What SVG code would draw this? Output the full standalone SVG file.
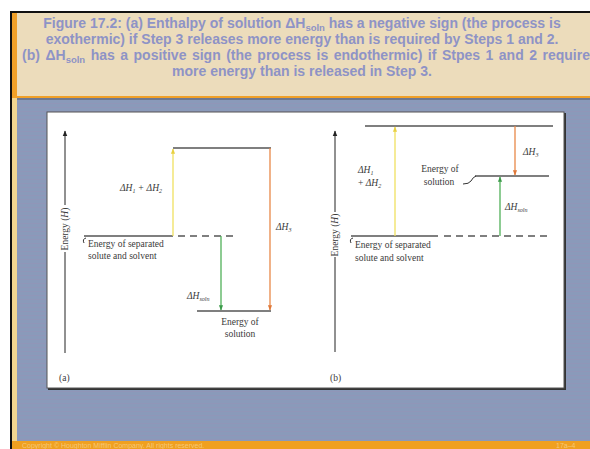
<svg xmlns="http://www.w3.org/2000/svg" width="590" height="449" viewBox="0 0 590 449">
<defs>
<style>
.title{font-family:"Liberation Sans",Arial,sans-serif;font-weight:bold;font-size:14px;fill:#8e93c6;text-anchor:middle}
.lbl{font-family:"Liberation Serif","Times New Roman",serif;font-size:9.5px;fill:#3a3a3a}
.it{font-style:italic}
.lvl{stroke:#555;stroke-width:1.3;fill:none}
.dash{stroke:#555;stroke-width:1.3;stroke-dasharray:7 5;fill:none}
.axis{stroke:#222;stroke-width:1;fill:none}
.foot{font-family:"Liberation Sans",Arial,sans-serif;font-size:7px;fill:#f6c878}
</style>
<marker id="ahK" viewBox="0 0 10 10" refX="9" refY="5" markerWidth="6" markerHeight="6" orient="auto"><path d="M0,1 L10,5 L0,9 z" fill="#222"/></marker>
<marker id="ahY" viewBox="0 0 10 10" refX="9" refY="5" markerWidth="4" markerHeight="5" orient="auto"><path d="M0,1 L10,5 L0,9 z" fill="#e8d040"/></marker>
<marker id="ahO" viewBox="0 0 10 10" refX="9" refY="5" markerWidth="4" markerHeight="5" orient="auto"><path d="M0,1 L10,5 L0,9 z" fill="#e07838"/></marker>
<marker id="ahG" viewBox="0 0 10 10" refX="9" refY="5" markerWidth="4" markerHeight="5" orient="auto"><path d="M0,1 L10,5 L0,9 z" fill="#3a9a48"/></marker>
<pattern id="stripes" width="4" height="4" patternUnits="userSpaceOnUse"><rect width="4" height="4" fill="#8a9aba"/><rect y="3" width="4" height="1" fill="#9096b8"/></pattern>
</defs>
<rect width="590" height="449" fill="#fff"/>
<!-- frame -->
<rect x="10" y="11" width="580" height="438" fill="#111"/>
<rect x="12" y="13" width="578" height="85" fill="#ecdcbb"/>
<rect x="12" y="13" width="5" height="85" fill="#f0a028"/>
<rect x="12" y="96" width="578" height="2" fill="#f0a028"/>
<rect x="12" y="98" width="578" height="343" fill="url(#stripes)"/>
<rect x="12" y="98" width="5" height="343" fill="#f2d690"/>
<rect x="17" y="98" width="573" height="2" fill="#6e7890"/>
<rect x="12" y="441" width="578" height="8" fill="#f0a020"/>
<text class="foot" x="22" y="447.5">Copyright © Houghton Mifflin Company. All rights reserved.</text>
<text class="foot" x="556" y="447.5">17a–4</text>
<!-- title -->
<g id="title">
<text class="title" x="302" y="28">Figure 17.2:  (a) Enthalpy of solution ΔH<tspan font-size="9.5" dy="2.5">soln</tspan><tspan dy="-2.5"> has a negative sign (the process is</tspan></text>
<text class="title" x="302" y="44">exothermic) if Step 3 releases more energy than is required by Steps 1 and 2.</text>
<text class="title" x="306" y="60" word-spacing="1.6">(b) ΔH<tspan font-size="9.5" dy="2.5">soln</tspan><tspan dy="-2.5"> has a positive sign (the process is endothermic) if Stpes 1 and 2 require</tspan></text>
<text class="title" x="302" y="76">more energy than is released in Step 3.</text>
</g>
<!-- figure box -->
<rect x="48" y="113" width="518" height="277" fill="#333"/>
<rect x="47" y="112" width="517" height="276" fill="#fff" stroke="#555" stroke-width="1"/>
<!-- panel a -->
<g id="panel-a">
<g id="a-axis">
<line class="axis" x1="65" y1="353" x2="65" y2="252"/>
<line class="axis" x1="65" y1="205" x2="65" y2="131" marker-end="url(#ahK)"/>
<text class="lbl" transform="translate(68,229) rotate(-90)" text-anchor="middle">Energy (<tspan class="it">H</tspan>)</text>
</g>
<g id="a-top"><line class="lvl" x1="173" y1="148" x2="271" y2="148"/></g>
<g id="a-sep">
<line class="lvl" x1="84" y1="236" x2="173" y2="236"/>
<line class="dash" x1="178" y1="236" x2="238" y2="236"/>
<path d="M86,238 q-4,1 -2,5" fill="none" stroke="#333" stroke-width="1"/>
<text class="lbl" x="88" y="247">Energy of separated</text>
<text class="lbl" x="88" y="259">solute and solvent</text>
</g>
<g id="a-sol">
<line class="lvl" x1="197" y1="311" x2="271" y2="311"/>
<text class="lbl" x="240" y="325" text-anchor="middle">Energy of</text>
<text class="lbl" x="240" y="337" text-anchor="middle">solution</text>
</g>
<g id="a-connectors">
<line x1="173" y1="236" x2="173" y2="149" stroke="#f0e060" stroke-width="1.3" marker-end="url(#ahY)"/>
<line x1="221" y1="236" x2="221" y2="310" stroke="#50b058" stroke-width="1.3" marker-end="url(#ahG)"/>
<line x1="270" y1="148" x2="270" y2="310" stroke="#e88848" stroke-width="1.3" marker-end="url(#ahO)"/>
</g>
<text class="lbl it" x="141" y="191" text-anchor="middle">ΔH<tspan font-size="6" dy="2">1</tspan><tspan dy="-2"> + ΔH</tspan><tspan font-size="6" dy="2">2</tspan></text>
<text class="lbl it" x="276" y="230">ΔH<tspan font-size="6" dy="2">3</tspan></text>
<text class="lbl it" x="187" y="299">ΔH<tspan font-size="6" dy="2">soln</tspan></text>
<text class="lbl" x="59" y="381">(a)</text>
</g>
<!-- panel b -->
<g id="panel-b">
<g id="b-axis">
<line class="axis" x1="335" y1="352" x2="335" y2="257"/>
<line class="axis" x1="335" y1="212" x2="335" y2="131" marker-end="url(#ahK)"/>
<text class="lbl" transform="translate(338,235) rotate(-90)" text-anchor="middle">Energy (<tspan class="it">H</tspan>)</text>
</g>
<g id="b-top"><line class="lvl" x1="365" y1="126" x2="553" y2="126"/></g>
<g id="b-sol">
<line class="lvl" x1="475" y1="176" x2="549" y2="176"/>
<path d="M463,184 q6,0 8,-3 q2,-4 5,-5" fill="none" stroke="#333" stroke-width="1"/>
<text class="lbl" x="440" y="172" text-anchor="middle">Energy of</text>
<text class="lbl" x="439" y="185" text-anchor="middle">solution</text>
</g>
<g id="b-sep">
<line class="lvl" x1="351" y1="236" x2="438" y2="236"/>
<line class="dash" x1="444" y1="236" x2="549" y2="236"/>
<path d="M353,238 q-4,1 -2,5" fill="none" stroke="#333" stroke-width="1"/>
<text class="lbl" x="355" y="248">Energy of separated</text>
<text class="lbl" x="355" y="261">solute and solvent</text>
</g>
<g id="b-connectors">
<line x1="395" y1="236" x2="395" y2="127" stroke="#f0e060" stroke-width="1.3" marker-end="url(#ahY)"/>
<line x1="515" y1="126" x2="515" y2="175" stroke="#e88848" stroke-width="1.3" marker-end="url(#ahO)"/>
<line x1="500" y1="236" x2="500" y2="177" stroke="#50b058" stroke-width="1.3" marker-end="url(#ahG)"/>
</g>
<text class="lbl it" x="358" y="173">ΔH<tspan font-size="6" dy="2">1</tspan></text>
<text class="lbl it" x="358" y="186"><tspan font-style="normal">+ </tspan>ΔH<tspan font-size="6" dy="2">2</tspan></text>
<text class="lbl it" x="523" y="155">ΔH<tspan font-size="6" dy="2">3</tspan></text>
<text class="lbl it" x="505" y="210">ΔH<tspan font-size="6" dy="2">soln</tspan></text>
<text class="lbl" x="330" y="381">(b)</text>
</g>
</svg>
